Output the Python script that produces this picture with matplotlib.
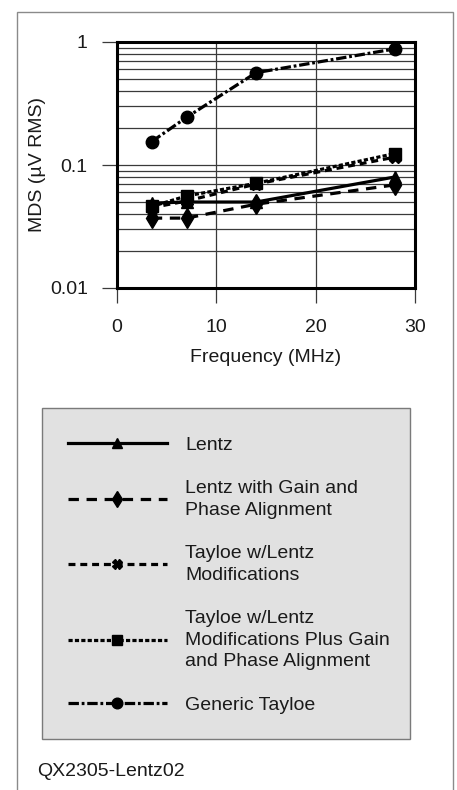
import matplotlib.pyplot as plt
from matplotlib.patches import Rectangle
from matplotlib.ticker import LogLocator, NullFormatter, FixedLocator

plt.rcParams['font.family'] = ['Liberation Sans', 'DejaVu Sans']
plt.rcParams['lines.scale_dashes'] = False

# MDS measurements vs. frequency
freq_mhz = [3.5, 7, 14, 28]
lentz = [0.049, 0.050, 0.050, 0.080]
lentz_gain_phase = [0.037, 0.037, 0.048, 0.069]
tayloe_lentz_mods = [0.045, 0.051, 0.070, 0.116]
tayloe_mods_gain_phase = [0.046, 0.056, 0.071, 0.124]
generic_tayloe = [0.155, 0.244, 0.563, 0.880]

labels = [
    'Lentz',
    'Lentz with Gain and\nPhase Alignment',
    'Tayloe w/Lentz\nModifications',
    'Tayloe w/Lentz\nModifications Plus Gain\nand Phase Alignment',
    'Generic Tayloe',
]
series = [lentz, lentz_gain_phase, tayloe_lentz_mods, tayloe_mods_gain_phase, generic_tayloe]
styles = [
    dict(linestyle='-', marker='^', markersize=8),
    dict(linestyle=(0, (7.5, 5.5)), marker='d', markersize=10),
    dict(linestyle=(0, (5, 3.5)), marker='X', markersize=8),
    dict(linestyle=(0, (3, 1.6)), marker='s', markersize=8),
    dict(linestyle=(0, (7.5, 2, 2, 2)), marker='o', markersize=9),
]

FS = 14

fig = plt.figure(figsize=(4.57, 7.9), dpi=100)

# outer panel border
fig.patches.append(Rectangle((17 / 457, -0.05), (453 - 17) / 457, 1.05 - 12 / 790,
                             transform=fig.transFigure, fill=False,
                             edgecolor='#8a8a8a', linewidth=1.0))

ax = fig.add_axes([117 / 457, 1 - 288 / 790, (415 - 117) / 457, (288 - 42) / 790])

handles = []
for ys, lab, st in zip(series, labels, styles):
    h, = ax.plot(freq_mhz, ys, color='black', linewidth=2.3,
                 markerfacecolor='black', markeredgecolor='black',
                 label=lab, **st)
    handles.append(h)

ax.set_yscale('log')
ax.set_xlim(0, 30)
ax.set_ylim(0.01, 1)
ax.xaxis.set_major_locator(FixedLocator([0, 10, 20, 30]))
ax.yaxis.set_major_locator(FixedLocator([0.01, 0.1, 1]))
ax.yaxis.set_major_formatter(plt.FuncFormatter(lambda v, p: f'{v:g}'))
ax.yaxis.set_minor_locator(LogLocator(base=10, subs=range(2, 10)))
ax.yaxis.set_minor_formatter(NullFormatter())

ax.grid(True, which='major', color='#3a3a3a', linewidth=0.9)
ax.grid(True, which='minor', axis='y', color='#3a3a3a', linewidth=0.9)
ax.tick_params(axis='both', which='major', direction='out', length=11,
               width=0.9, color='#3a3a3a', labelsize=FS, labelcolor='#1a1a1a')
ax.tick_params(axis='y', which='major', pad=10)
ax.tick_params(axis='x', which='major', pad=11)
ax.tick_params(axis='y', which='minor', length=0)
for sp in ax.spines.values():
    sp.set_linewidth(2.2)
    sp.set_color('black')

ax.set_xlabel('Frequency (MHz)', fontsize=FS, color='#1a1a1a', labelpad=10)
ax.set_ylabel('MDS (µV RMS)', fontsize=FS, color='#1a1a1a', labelpad=3)

# legend panel
fig.patches.append(Rectangle((42 / 457, 1 - 739 / 790), (410 - 42) / 457, (739 - 408) / 790,
                             transform=fig.transFigure, facecolor='#e1e1e1',
                             edgecolor='#7a7a7a', linewidth=1.0, zorder=0))
leg = fig.legend(handles=handles, loc='upper left',
                 bbox_to_anchor=(50 / 457, 1 - 419 / 790), frameon=False,
                 fontsize=FS, handlelength=5.1, handletextpad=0.95,
                 labelspacing=1.33, numpoints=1, markerscale=0.85,
                 labelcolor='#1a1a1a')
for t in leg.get_texts():
    t.set_linespacing(1.38)

fig.text(37 / 457, 1 - 771 / 790, 'QX2305-Lentz02', fontsize=FS,
         color='#1a1a1a', va='center', ha='left')

fig.savefig('out.png', dpi=100)
